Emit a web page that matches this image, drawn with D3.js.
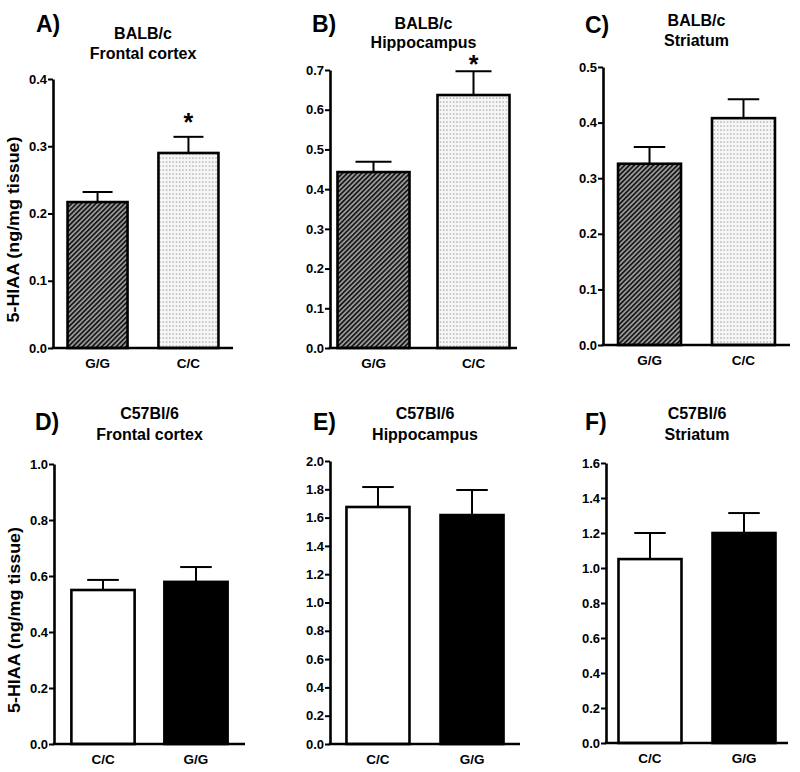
<!DOCTYPE html>
<html>
<head>
<meta charset="utf-8">
<script src="https://cdn.jsdelivr.net/npm/d3@7"></script>
<style>
  html, body { margin: 0; padding: 0; background: #fff; }
  svg { display: block; }
  text { font-family: "Liberation Sans", Arial, sans-serif; font-weight: bold; fill: #000; }
</style>
</head>
<body>
<svg id="chart" width="800" height="772"></svg>
<script>
// ---------------- DATA ----------------
const panelLetters = ["A)", "B)", "C)", "D)", "E)", "F)"];
const strainTitles = ["BALB/c", "BALB/c", "BALB/c", "C57Bl/6", "C57Bl/6", "C57Bl/6"];
const regionTitles = ["Frontal cortex", "Hippocampus", "Striatum", "Frontal cortex", "Hippocampus", "Striatum"];
const categoriesBALB = ["G/G", "C/C"];
const categoriesC57 = ["C/C", "G/G"];
const meansA = [0.217, 0.290], semA = [0.015, 0.024];
const meansB = [0.443, 0.637], semB = [0.026, 0.060];
const meansC = [0.326, 0.408], semC = [0.030, 0.034];
const meansD = [0.550, 0.579], semD = [0.036, 0.053];
const meansE = [1.675, 1.618], semE = [0.141, 0.177];
const meansF = [1.051, 1.200], semF = [0.149, 0.114];
const yMaxes = [0.4, 0.7, 0.5, 1.0, 2.0, 1.6];
const yTickSteps = [0.1, 0.1, 0.1, 0.2, 0.2, 0.2];
const significant = [[false, true], [false, true], [false, false], [false, false], [false, false], [false, false]];
const yLabel = "5-HIAA (ng/mg tissue)";

// ---------------- LAYOUT ----------------
const layouts = [
  { x0: 53,  x1: 233, top: 79,  zero: 348, pi: 0.34, po: 0.16,  label: true,  letterX: 36,  letterY: 32,  t1: 39,  t2: 59,  star: -6 },
  { x0: 330, x1: 517, top: 70,  zero: 348, pi: 0.28, po: 0.075, label: false, letterX: 312, letterY: 32,  t1: 29,  t2: 48,  star: 2 },
  { x0: 603, x1: 790, top: 67,  zero: 345, pi: 0.33, po: 0.16,  label: false, letterX: 585, letterY: 33,  t1: 26,  t2: 46,  star: -4 },
  { x0: 54,  x1: 245, top: 464, zero: 744, pi: 0.32, po: 0.187, label: true,  letterX: 35,  letterY: 430, t1: 419, t2: 440, star: -4 },
  { x0: 330, x1: 520, top: 461, zero: 744, pi: 0.33, po: 0.175, label: false, letterX: 313, letterY: 430, t1: 419, t2: 440, star: -4 },
  { x0: 606, x1: 788, top: 463, zero: 743, pi: 0.33, po: 0.133, label: false, letterX: 585, letterY: 430, t1: 419, t2: 440, star: -4 }
];
const allMeans = [meansA, meansB, meansC, meansD, meansE, meansF];
const allSem = [semA, semB, semC, semD, semE, semF];
const allCats = [categoriesBALB, categoriesBALB, categoriesBALB, categoriesC57, categoriesC57, categoriesC57];

const svg = d3.select("#chart");
const defs = svg.append("defs");

// hatch pattern
const hatch = defs.append("pattern").attr("id", "hatch")
  .attr("patternUnits", "userSpaceOnUse").attr("width", 3.4).attr("height", 3.4)
  .attr("patternTransform", "rotate(45)");
hatch.append("rect").attr("width", 3.4).attr("height", 3.4).attr("fill", "#a0a0a0");
hatch.append("rect").attr("x", 0).attr("width", 1.8).attr("height", 3.4).attr("fill", "#1a1a1a");

// dot pattern
const dots = defs.append("pattern").attr("id", "dots")
  .attr("patternUnits", "userSpaceOnUse").attr("width", 3.3).attr("height", 4);
dots.append("rect").attr("width", 3.3).attr("height", 4).attr("fill", "#f6f6f6");
dots.append("rect").attr("x", 1).attr("y", 1.5).attr("width", 1.1).attr("height", 1.1).attr("fill", "#808080");

function fillFor(panel, cat) {
  if (panel < 3) return cat === "G/G" ? "url(#hatch)" : "url(#dots)";
  return cat === "G/G" ? "#000" : "#fff";
}

const FONT = '"Liberation Sans", Arial, sans-serif';

layouts.forEach((L, i) => {
  const g = svg.append("g");
  const cats = allCats[i];
  const x = d3.scaleBand().domain(cats).range([L.x0, L.x1]).paddingInner(L.pi).paddingOuter(L.po);
  const y = d3.scaleLinear().domain([0, yMaxes[i]]).range([L.zero, L.top]);
  const nT = Math.round(yMaxes[i] / yTickSteps[i]);
  const ticks = d3.range(nT + 1).map(k => +(k * yTickSteps[i]).toFixed(2));

  const data = cats.map((c, k) => ({ cat: c, mean: allMeans[i][k], sem: allSem[i][k], sig: significant[i][k] }));

  // error bars
  const eb = g.append("g").attr("stroke", "#000").attr("stroke-width", 2).attr("fill", "none");
  data.forEach(d => {
    const cx = x(d.cat) + x.bandwidth() / 2;
    const capW = x.bandwidth() / 2;
    eb.append("line").attr("x1", cx).attr("x2", cx).attr("y1", y(d.mean)).attr("y2", y(d.mean + d.sem));
    eb.append("line").attr("x1", cx - capW / 2).attr("x2", cx + capW / 2).attr("y1", y(d.mean + d.sem)).attr("y2", y(d.mean + d.sem));
  });

  // bars
  g.append("g").selectAll("rect").data(data).join("rect")
    .attr("x", d => x(d.cat))
    .attr("y", d => y(d.mean))
    .attr("width", x.bandwidth())
    .attr("height", d => y(0) - y(d.mean))
    .attr("fill", d => fillFor(i, d.cat))
    .attr("stroke", "#000").attr("stroke-width", 2.6);

  // asterisks
  data.filter(d => d.sig).forEach(d => {
    g.append("text").attr("x", x(d.cat) + x.bandwidth() / 2).attr("y", y(d.mean + d.sem) + L.star)
      .attr("text-anchor", "middle").style("font-size", "25px").text("*");
  });

  // y axis
  const yAxis = d3.axisLeft(y).tickValues(ticks).tickFormat(d3.format(".1f")).tickSize(5).tickPadding(1).tickSizeOuter(0);
  const ya = g.append("g").attr("transform", `translate(${L.x0},0)`).call(yAxis);
  ya.select(".domain").attr("stroke", "#000").attr("stroke-width", 2.6);
  ya.selectAll(".tick line").attr("stroke", "#000").attr("stroke-width", 2);
  ya.selectAll(".tick text").style("font-size", "13px").style("font-family", FONT).style("font-weight", "bold").attr("fill", "#000");

  // x axis
  const xAxis = d3.axisBottom(x).tickSize(0).tickPadding(10);
  const xa = g.append("g").attr("transform", `translate(0,${L.zero})`).call(xAxis);
  xa.select(".domain").attr("stroke", "#000").attr("stroke-width", 2.6)
    .attr("d", `M${L.x0 - 1.3},0H${L.x1}`);
  xa.selectAll(".tick text").style("font-size", "13.5px").style("font-family", FONT).style("font-weight", "bold").attr("fill", "#000");

  // titles
  const cx = (L.x0 + L.x1) / 2;
  g.append("text").attr("x", cx).attr("y", L.t1).attr("text-anchor", "middle").style("font-size", "16px").text(strainTitles[i]);
  g.append("text").attr("x", cx).attr("y", L.t2).attr("text-anchor", "middle").style("font-size", "16px").text(regionTitles[i]);
  g.append("text").attr("x", L.letterX).attr("y", L.letterY).attr("text-anchor", "start").style("font-size", "23px").text(panelLetters[i]);

  if (L.label) {
    g.append("text").attr("transform", `translate(${L.x0 - 34},${(L.top + L.zero) / 2 + 16}) rotate(-90)`)
      .attr("text-anchor", "middle").style("font-size", "16px")
      .attr("textLength", 186).attr("lengthAdjust", "spacingAndGlyphs").text(yLabel);
  }
});
</script>
</body>
</html>
